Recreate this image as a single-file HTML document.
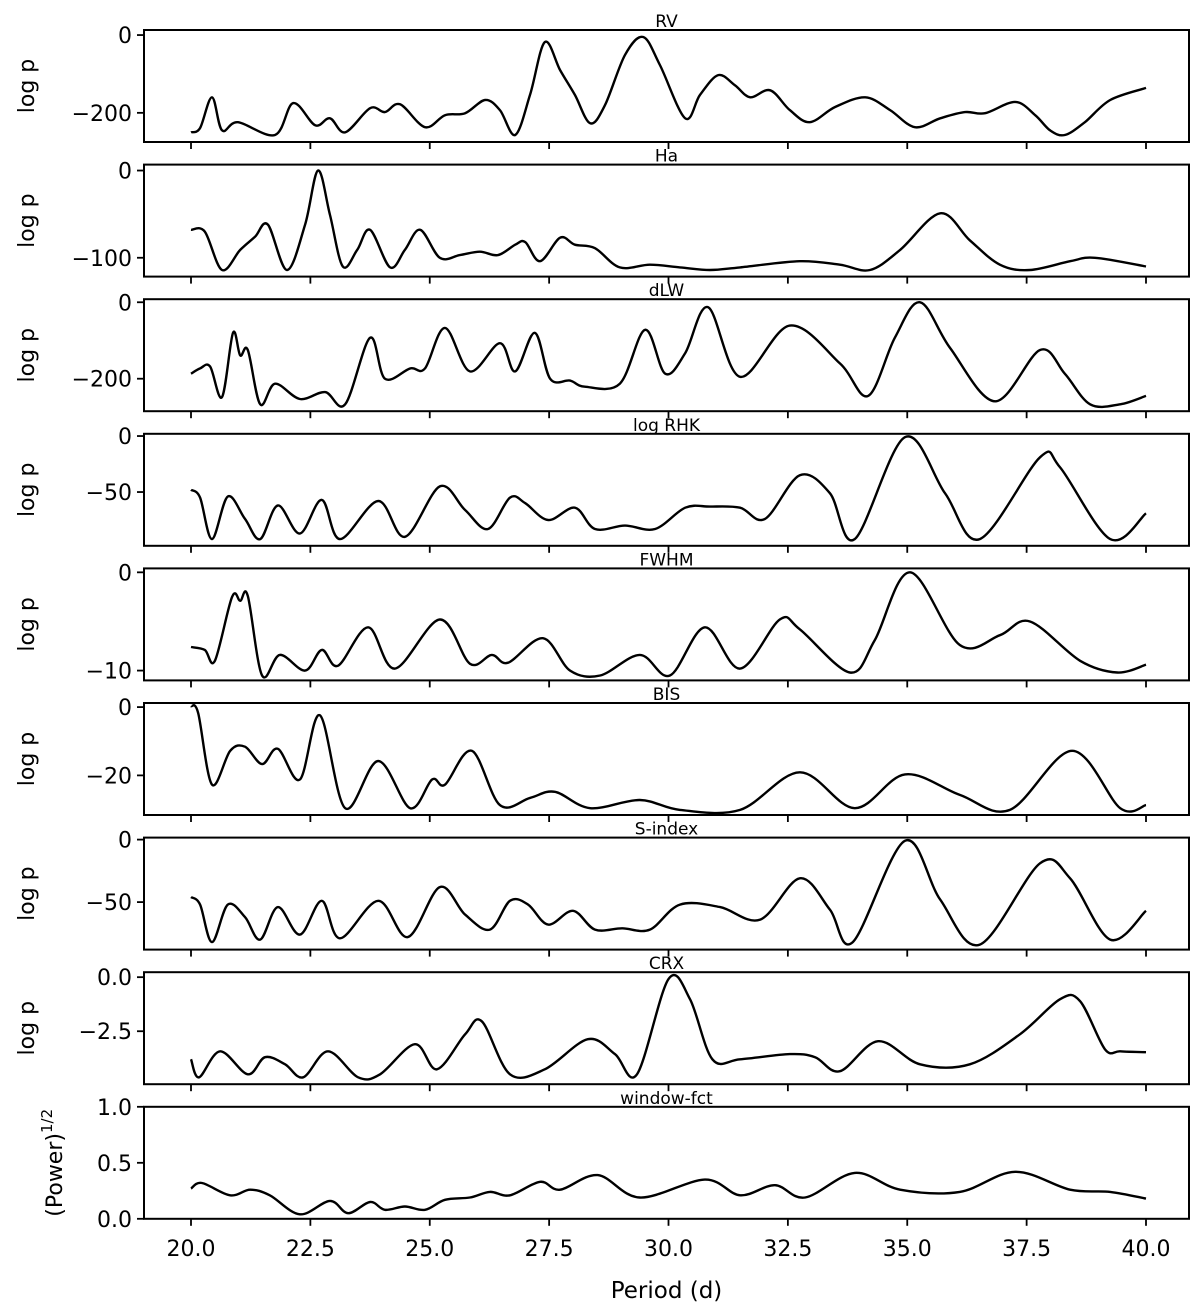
<!DOCTYPE html>
<html><head><meta charset="utf-8"><style>
html,body{margin:0;padding:0;background:#fff}
svg{display:block;font-family:"DejaVu Sans","Liberation Sans",sans-serif}
</style></head><body>
<svg id="chart" width="1200" height="1308" viewBox="0 0 1200 1308" xmlns="http://www.w3.org/2000/svg"></svg>
<script>
// ---- data (period in days, value) ----
const titles = ["RV","Ha","dLW","log RHK","FWHM","BIS","S-index","CRX","window-fct"];
const yLabels = ["log p","log p","log p","log p","log p","log p","log p","log p","(Power)"];
const yLims = [[-275,13],[-121.6,6.8],[-285,8],[-98,2],[-11,0.4],[-31.6,1.2],[-88,1.6],[-4.95,0.23],[0,1]];
const yTicks = [[0,-200],[0,-100],[0,-200],[0,-50],[0,-10],[0,-20],[0,-50],[0,-2.5],[0,0.5,1]];
const yTickLabels = [["0","\u2212200"],["0","\u2212100"],["0","\u2212200"],["0","\u221250"],["0","\u221210"],["0","\u221220"],["0","\u221250"],["0.0","\u22122.5"],["0.0","0.5","1.0"]];
const xTicks = [20,22.5,25,27.5,30,32.5,35,37.5,40];
const xTickLabels = ["20.0","22.5","25.0","27.5","30.0","32.5","35.0","37.5","40.0"];

const rvX = [20,20.19,20.44,20.65,20.98,21.76,22.14,22.6,22.91,23.23,23.75,24.06,24.38,24.9,25.32,25.74,26.16,26.47,26.79,27.1,27.41,27.73,28.04,28.36,28.67,29.09,29.47,29.82,30.35,30.66,31.04,31.39,31.71,32.13,32.54,32.96,33.49,34.12,34.64,35.16,35.69,36.21,36.63,37.26,37.68,37.99,38.3,38.72,39.25,40];
const rvY = [-250,-239,-160,-245,-224,-257,-175,-232,-214,-250,-188,-198,-178,-237,-206,-201,-167,-193,-257,-154,-18,-90,-154,-227,-180,-51,-5,-77,-214,-154,-103,-129,-160,-142,-193,-224,-185,-160,-193,-237,-214,-198,-201,-172,-206,-245,-257,-224,-167,-136];

const haX = [20,20.29,20.65,21.03,21.34,21.61,22.01,22.39,22.66,22.91,23.18,23.48,23.75,24.17,24.48,24.8,25.21,25.63,26.05,26.43,26.79,27,27.31,27.73,28.04,28.46,28.98,29.61,30.24,30.87,31.5,32.75,33.59,34.22,34.85,35.69,36.31,36.94,37.57,38.41,38.93,40];
const haY = [-68,-70,-114,-91,-76,-62,-114,-62,0,-51,-110,-91,-68,-111,-91,-68,-100,-97,-93,-97,-85,-82,-104,-77,-85,-89,-111,-108,-111,-114,-111,-104,-108,-114,-91,-49,-80,-108,-114,-104,-100,-110];

const dlwX = [20,20.19,20.4,20.65,20.88,21.03,21.19,21.45,21.76,22.28,22.81,23.23,23.75,24.06,24.59,24.9,25.32,25.84,26.47,26.79,27.2,27.52,27.94,28.25,28.98,29.51,29.93,30.35,30.83,31.5,32.54,33.59,34.18,34.74,35.27,35.9,36.84,37.78,38.3,38.83,39.46,40];
const dlwY = [-187,-173,-168,-248,-80,-139,-125,-267,-213,-253,-235,-267,-93,-200,-173,-173,-67,-181,-107,-181,-80,-200,-205,-221,-213,-72,-187,-133,-13,-195,-61,-160,-245,-93,0,-120,-259,-125,-187,-267,-267,-245];

const rhkX = [20,20.19,20.44,20.77,21.13,21.45,21.82,22.28,22.74,23.12,23.92,24.48,25.21,25.74,26.22,26.68,27,27.48,28.04,28.46,29.09,29.72,30.35,30.87,31.5,32.02,32.75,33.38,33.9,34.95,35.79,36.52,37.78,38.2,39.25,40];
const rhkY = [-48,-55,-92,-54,-74,-92,-62,-87,-57,-92,-58,-90,-45,-66,-83,-55,-60,-75,-64,-83,-80,-83,-64,-63,-64,-74,-35,-51,-92,-1,-51,-92,-19,-28,-92,-69];

const fwhmX = [20,20.29,20.5,20.86,21.03,21.19,21.49,21.86,22.39,22.74,23.08,23.71,24.27,25.21,25.84,26.3,26.64,27.37,27.94,28.57,29.4,30.03,30.76,31.5,32.33,32.75,33.8,34.32,35.06,36.1,36.94,37.57,38.62,39.4,40];
const fwhmY = [-7.6,-7.9,-9,-2.5,-2.9,-2.4,-10.5,-8.4,-10,-7.9,-9.5,-5.6,-9.8,-4.8,-9.3,-8.4,-9.2,-6.7,-10,-10.5,-8.4,-10.5,-5.6,-9.8,-4.8,-5.8,-10.2,-6.9,0,-7.4,-6.4,-5,-9,-10.2,-9.4];

const bisX = [20,20.15,20.44,20.82,21.13,21.49,21.82,22.28,22.7,23.23,23.92,24.59,25.05,25.32,25.88,26.47,27.1,27.62,28.36,29.4,30.24,31.5,32.75,33.9,34.95,36.1,37.15,38.45,39.46,40];
const bisY = [0.3,-1.8,-22.7,-12.8,-11.6,-16.7,-12.2,-21.2,-2.4,-29.6,-15.8,-29.6,-21.2,-22.7,-12.8,-28.7,-26.6,-24.8,-29.6,-27.2,-30.1,-30.1,-19.1,-29.6,-19.7,-25.7,-30.1,-12.8,-29.6,-28.7];

const sX = [20,20.19,20.44,20.77,21.13,21.45,21.82,22.28,22.74,23.12,23.92,24.54,25.21,25.74,26.26,26.68,27.06,27.48,28,28.46,29.03,29.61,30.24,31.08,31.92,32.75,33.38,33.86,34.95,35.69,36.52,37.78,38.41,39.25,40];
const sY = [-46,-52,-82,-52,-62,-80,-54,-76,-49,-79,-49,-78,-38,-60,-72,-49,-52,-68,-57,-72,-71,-72,-52,-54,-64,-31,-56,-82,-1,-48,-84,-19,-31,-80,-57];

const crxX = [20,20.17,20.61,21.19,21.55,21.97,22.35,22.87,23.5,23.96,24.69,25.15,25.74,26.09,26.68,27.41,28.31,28.88,29.34,30,30.45,30.92,31.5,32.54,33.07,33.59,34.39,35.27,36.31,37.36,38.2,38.62,39.14,39.46,40];
const crxY = [-3.8,-4.63,-3.43,-4.49,-3.7,-4.03,-4.63,-3.43,-4.63,-4.49,-3.1,-4.26,-2.64,-2.04,-4.49,-4.26,-2.87,-3.56,-4.49,-0.09,-1.02,-3.8,-3.8,-3.56,-3.7,-4.35,-2.96,-4.03,-4.03,-2.64,-1.02,-1.11,-3.33,-3.43,-3.47];

const winX = [20,20.23,20.82,21.24,21.65,22.28,22.91,23.29,23.75,24.06,24.48,24.9,25.32,25.84,26.26,26.68,27.31,27.73,28.52,29.4,30.76,31.5,32.23,32.86,33.9,34.85,36.1,37.26,38.41,39.25,40];
const winY = [0.27,0.32,0.21,0.26,0.21,0.04,0.16,0.05,0.15,0.08,0.11,0.08,0.17,0.19,0.24,0.21,0.33,0.26,0.39,0.19,0.35,0.21,0.30,0.19,0.41,0.26,0.24,0.42,0.26,0.24,0.18];

const seriesX = [rvX,haX,dlwX,rhkX,fwhmX,bisX,sX,crxX,winX];
const seriesY = [rvY,haY,dlwY,rhkY,fwhmY,bisY,sY,crxY,winY];

// ---- layout ----
const NS = "http://www.w3.org/2000/svg";
const svg = document.getElementById('chart');
const L = 144, R = 1189, H = 112, TOP0 = 30, STEP = 134.6;
function xScale(v){ return 191 + (v - 20) * 47.75; }
function mk(tag, attrs, parent){ const e = document.createElementNS(NS, tag); for (const k in attrs) e.setAttribute(k, attrs[k]); (parent||svg).appendChild(e); return e; }
function smoothPath(pts){
  let d = "M" + pts[0][0].toFixed(1) + "," + pts[0][1].toFixed(1);
  for (let i = 0; i < pts.length - 1; i++){
    const p0 = pts[i-1] || pts[i], p1 = pts[i], p2 = pts[i+1], p3 = pts[i+2] || p2;
    const c1x = p1[0] + (p2[0]-p0[0])/6, c1y = p1[1] + (p2[1]-p0[1])/6;
    const c2x = p2[0] - (p3[0]-p1[0])/6, c2y = p2[1] - (p3[1]-p1[1])/6;
    d += " C" + c1x.toFixed(1)+","+c1y.toFixed(1)+" "+c2x.toFixed(1)+","+c2y.toFixed(1)+" "+p2[0].toFixed(1)+","+p2[1].toFixed(1);
  }
  return d;
}

for (let i = 0; i < 9; i++){
  const top = TOP0 + i * STEP, bot = top + H;
  const [y0, y1] = yLims[i];
  const yScale = v => bot - (v - y0) / (y1 - y0) * H;
  const g = mk('g', {});
  
  

  const pts = seriesX[i].map((x, j) => [xScale(x), yScale(seriesY[i][j])]);
  const line = mk('path', {d: smoothPath(pts), fill: 'none', stroke: '#000', 'stroke-width': 2.4, 'stroke-linejoin': 'round'}, g);
  
  

  const frame = mk('rect', {x: L, y: top, width: R - L, height: H, fill: 'none', stroke: '#000', 'stroke-width': 2}, g);
  
  

  xTicks.forEach((t, k) => {
    const x = xScale(t);
    const tk = mk('line', {x1: x, x2: x, y1: bot, y2: bot + 7, stroke: '#000', 'stroke-width': 1.8}, g);
    
    
    if (i === 8){
      const tl = mk('text', {x: x, y: bot + 37, 'font-size': 22, 'text-anchor': 'middle', fill: '#000'}, g);
      tl.textContent = xTickLabels[k];
      
      
    }
  });

  yTicks[i].forEach((t, k) => {
    const y = yScale(t);
    const tk = mk('line', {x1: L - 7, x2: L, y1: y, y2: y, stroke: '#000', 'stroke-width': 1.8}, g);
    
    
    const tl = mk('text', {x: L - 12, y: y + 8, 'font-size': 22, 'text-anchor': 'end', fill: '#000'}, g);
    tl.textContent = yTickLabels[i][k];
    
    
  });

  const tt = mk('text', {x: (L + R) / 2, y: top - 3, 'font-size': 17, 'text-anchor': 'middle', fill: '#000'}, g);
  tt.textContent = titles[i];
  
  

  const cy = top + H / 2;
  const yl = mk('text', {x: 0, y: 0, 'font-size': 22, 'text-anchor': 'middle', fill: '#000', transform: 'translate(' + (i === 8 ? 62 : 34) + ',' + cy + ') rotate(-90)'}, g);
  yl.textContent = yLabels[i];
  if (i === 8){
    const sup = mk('tspan', {'font-size': 15, dy: -10}, yl);
    sup.textContent = '1/2';
  }
  
  
}

const xt = mk('text', {x: (L + R) / 2, y: 1298, 'font-size': 23, 'text-anchor': 'middle', fill: '#000'});
xt.textContent = 'Period (d)';


</script>
</body></html>
